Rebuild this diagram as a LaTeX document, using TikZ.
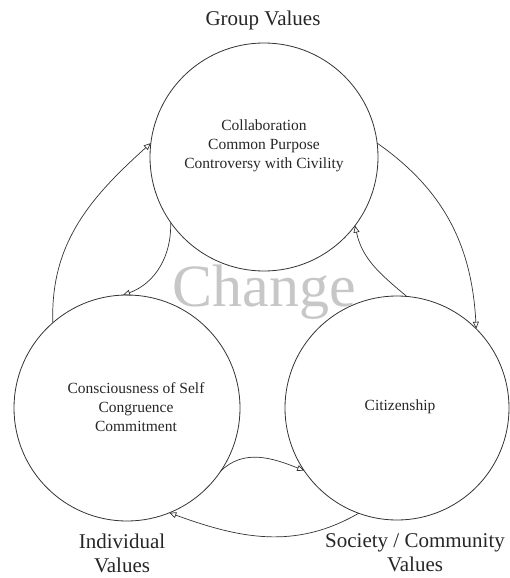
\documentclass[tikz,border=0pt]{standalone}
\usepackage{fontspec}
\setmainfont{Liberation Serif}
\usetikzlibrary{arrows.meta}
\begin{document}
\begin{tikzpicture}[x=1pt,y=-1pt,
  ring/.style={circle,draw=black!80,line width=0.8pt,minimum size=#1,inner sep=0pt,outer sep=0pt},
  inner/.style={align=center,font=\rmfamily\fontsize{15.5}{19}\selectfont,text=black!85},
  outer/.style={align=center,font=\rmfamily\fontsize{21}{24}\selectfont,text=black!85},
  flow/.style={draw=black!80,line width=0.7pt,-{Triangle[open,length=7pt,width=6pt]}}]
\useasboundingbox (0,0) rectangle (509,578);
\node[ring=228pt] (top) at (264,157) {};
\node[ring=226pt] (left) at (127,408) {};
\node[ring=224pt] (right) at (397,408) {};
\node[anchor=base,font=\rmfamily\fontsize{60}{60}\selectfont,text=black!22] (change) at (264,306) {Change};
\node[inner] (toptext) at (264,146) {Collaboration\\Common Purpose\\Controversy with Civility};
\node[inner] (lefttext) at (136,407) {Consciousness of Self\\Congruence\\Commitment};
\node[inner] (righttext) at (400,407) {Citizenship};
\node[outer] (grp) at (263,20) {Group Values};
\node[outer] (ind) at (122,553) {Individual\\Values};
\node[outer] (soc) at (415,553) {Society / Community\\Values};
\draw[flow] (left.131) to[out=92,in=222] (top.173);
\draw[flow] (top.215) to[out=-88,in=20] (left.92);
\draw[flow] (right.85) to[out=140,in=-78] (top.323);
\draw[flow] (top.7) to[out=-35,in=93] (right.45);
\draw[flow] (left.326) to[out=45,in=158] (right.214);
\draw[flow] (right.250) to[out=-150,in=-20] (left.292);
\end{tikzpicture}
\end{document}
